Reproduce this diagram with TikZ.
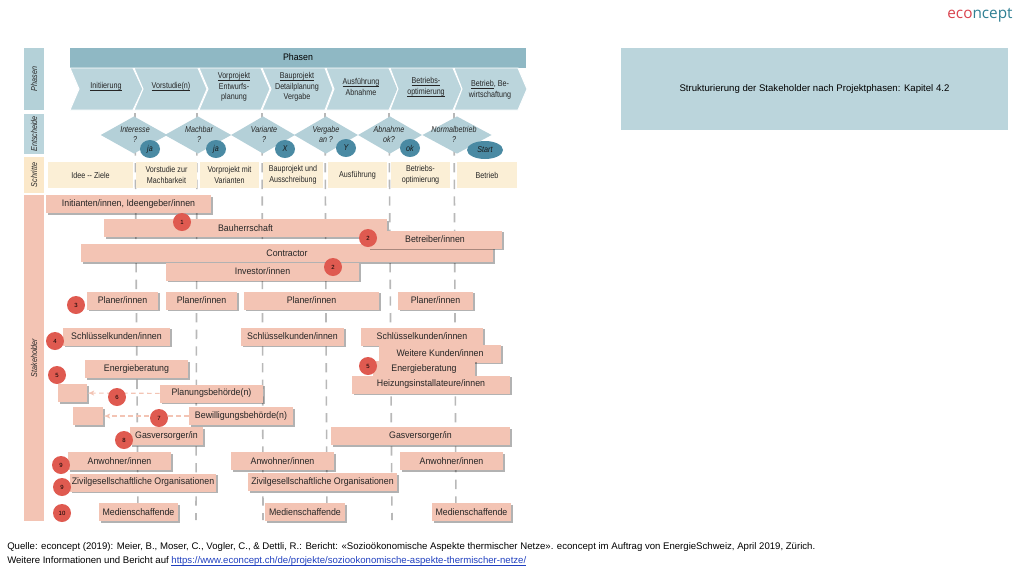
\documentclass[tikz,border=0pt]{standalone}
\usepackage{fontspec}
\setmainfont{Liberation Sans}
\newfontfamily\logofont{Open Sans}
\newfontfamily\narrowfont[FakeStretch=0.84]{Liberation Sans}
\newfontfamily\stakefont[FakeStretch=0.93]{Liberation Sans}
\usepackage{tikz}
\usetikzlibrary{arrows}
\usetikzlibrary{shadows}
\usetikzlibrary{shapes.geometric}
\definecolor{phasehead}{HTML}{8FB8C4}
\definecolor{phaselight}{HTML}{BBD5DC}
\definecolor{gatelight}{HTML}{B4D0D8}
\definecolor{gatedark}{HTML}{4A8AA3}
\definecolor{stepfill}{HTML}{FBEFD6}
\definecolor{stepside}{HTML}{FBE8C9}
\definecolor{stakefill}{HTML}{F3C4B4}
\definecolor{markred}{HTML}{DF5A50}
\definecolor{linkblue}{HTML}{1F3FBF}
\definecolor{logored}{HTML}{D9434E}
\definecolor{logoteal}{HTML}{2F7F93}
\newcommand{\txt}{\stakefont\fontsize{7.1}{8.2}\selectfont}
\newcommand{\txs}{\narrowfont\fontsize{6.4}{8.1}\selectfont}
\newcommand{\txw}{\fontsize{7.2}{8.6}\selectfont}
\newcommand{\ul}[1]{\underline{\smash{#1}}}

\begin{document}
\begin{tikzpicture}[x=0.75pt, y=-0.75pt,
    pw/.style={minimum width=#1*0.75pt},
    sidebox/.style={inner sep=0, minimum width=15pt, font=\txs\itshape, text=black!85},
    phaselabel/.style={font=\txs, align=center, text=black!85},
    gatebox/.style={diamond, aspect=1.8, fill=gatelight, inner sep=0, minimum height=28pt},
    gatelabel/.style={font=\txs\itshape, align=center, text=black!85},
    answer/.style={ellipse, fill=gatedark, inner sep=0, minimum width=15pt, minimum height=13.5pt, font=\txs\itshape, text=black!90},
    stepbox/.style={fill=stepfill, font=\txs, align=center, text=black!85, inner sep=0, minimum height=19.5pt},
    stake/.style={fill=stakefill, font=\txt, text=black!85, inner sep=0, minimum height=13.5pt,
      drop shadow={shadow xshift=1.2pt, shadow yshift=-1.2pt, fill=black, opacity=0.3}},
    redmark/.style={circle, fill=markred, inner sep=0, minimum size=13.5pt, font=\fontsize{4.5}{5}\selectfont},
    gateline/.style={black!28, line width=1.2pt, dash pattern=on 7pt off 5.5pt},
    blankarrow/.style={stakefill, line width=0.8pt, dash pattern=on 3.5pt off 2.5pt, -latex'}]
    \useasboundingbox (0, 0) rectangle (1024, 576);

    \node [font=\fontsize{11.5}{13}\selectfont\logofont] (logo) at (980, 15) {\textcolor{logored}{eco}\textcolor{logoteal}{ncept}};

    % left column
    \node [sidebox, fill=phaselight!85!phasehead, minimum height=46.5pt] (sidephase) at (34, 79) {\rotatebox{90}{Phasen}};
    \node [sidebox, fill=phaselight, minimum height=30pt] (sidegate) at (34, 134) {\rotatebox{90}{Entscheide}};
    \node [sidebox, fill=stepside, minimum height=27pt] (sidestep) at (34, 175) {\rotatebox{90}{Schritte}};
    \node [sidebox, fill=stakefill, minimum height=244.5pt] (sidestake) at (34, 358) {\rotatebox{90}{Stakeholder}};

    % phase lines
    \foreach \i/\xa/\xb in {1/135/138, 2/197/196, 3/262/263, 4/325/327, 5/389/392, 6/454/456} {
      \coordinate (linetop\i) at (\xa, 113);
      \coordinate (linebot\i) at (\xb, 520);
      \draw [gateline] (linetop\i) -- (linebot\i);
    }

    % phases
    \node [fill=phasehead, font=\txt, inner sep=0, minimum height=15pt, pw=456] (phasehead) at (298, 57.5) {Phasen};
    \foreach \xa/\xb/\xc/\xd in {70/79/133/143, 134/143/198/207, 199/208/261/270, 262/271/325/333, 326/334/389/398, 390/398/453/462, 454/462/518/527} {
      \path [fill=phaselight, draw=white, line width=0.7pt] (\xa, 68) -- (\xc, 68) -- (\xd, 89) -- (\xc, 110) -- (\xa, 110) -- (\xb, 89) -- cycle;
    }
    \node [phaselabel] (ph1) at (106, 90) {\ul{Initiierung}};
    \node [phaselabel] (ph2) at (171, 90) {\ul{Vorstudie(n)}};
    \node [phaselabel] (ph3) at (234, 90) {\ul{Vorprojekt}\\Entwurfs-\\planung};
    \node [phaselabel] (ph4) at (297, 90) {\ul{Bauprojekt}\\Detailplanung\\Vergabe};
    \node [phaselabel] (ph5) at (361, 90) {\ul{Ausführung}\\Abnahme};
    \node [phaselabel] (ph6) at (426, 90) {\ul{Betriebs-}\\\ul{optimierung}};
    \node [phaselabel] (ph7) at (490, 90) {\ul{Betrieb}, Be-\\wirtschaftung};

    % decisions
    \node [gatebox, minimum width=50pt] (gate1) at (134, 135) {};
    \node [gatebox, minimum width=50pt] (gate2) at (198, 135) {};
    \node [gatebox, minimum width=48pt] (gate3) at (263, 135) {};
    \node [gatebox, minimum width=48pt] (gate4) at (326, 135) {};
    \node [gatebox, minimum width=48pt] (gate5) at (390, 135) {};
    \node [gatebox, minimum width=52pt] (gate6) at (457, 135) {};
    \node [gatelabel] (gatetxt1) at (135, 134.5) {Interesse\\?};
    \node [gatelabel] (gatetxt2) at (199, 134.5) {Machbar\\?};
    \node [gatelabel] (gatetxt3) at (264, 134.5) {Variante\\?};
    \node [gatelabel] (gatetxt4) at (326, 134.5) {Vergabe\\an ?};
    \node [gatelabel] (gatetxt5) at (389, 134.5) {Abnahme\\ok?};
    \node [gatelabel] (gatetxt6) at (454, 134.5) {Normalbetrieb\\?};
    \node [answer] (ans1) at (150, 149) {ja};
    \node [answer] (ans2) at (216, 149) {ja};
    \node [answer] (ans3) at (285, 149) {X};
    \node [answer] (ans4) at (346, 148) {Y};
    \node [answer] (ans5) at (410, 148) {ok};
    \node [answer, minimum width=27pt] (ans6) at (485, 150) {Start};

    % steps
    \node [stepbox, pw=85] (step1) at (90.5, 175) {Idee -- Ziele};
    \node [stepbox, pw=61] (step2) at (166.5, 175) {Vorstudie zur\\Machbarkeit};
    \node [stepbox, pw=59] (step3) at (229.5, 175) {Vorprojekt mit\\Varianten};
    \node [stepbox, pw=60] (step4) at (293, 175) {Bauprojekt und\\Ausschreibung};
    \node [stepbox, pw=59] (step5) at (357.5, 175) {Ausführung};
    \node [stepbox, pw=59] (step6) at (420.5, 175) {Betriebs-\\optimierung};
    \node [stepbox, pw=60] (step7) at (487, 175) {Betrieb};

    % stakeholders
    \node [stake, pw=165] (init) at (128.5, 204) {Initianten/innen, Ideengeber/innen};
    \node [stake, pw=283] (bauherr) at (245.5, 228) {Bauherrschaft};
    \node [stake, pw=412] (contr) at (287, 253) {Contractor};
    \node [stake, pw=134] (betr) at (435, 239.5) {Betreiber/innen};
    \node [stake, pw=193] (invest) at (262.5, 271.5) {Investor/innen};
    \node [stake, pw=71] (plan1) at (122.5, 300.5) {Planer/innen};
    \node [stake, pw=71] (plan2) at (201.5, 300.5) {Planer/innen};
    \node [stake, pw=135] (plan3) at (311.5, 300.5) {Planer/innen};
    \node [stake, pw=75] (plan4) at (435.5, 300.5) {Planer/innen};
    \node [stake, pw=107] (key1) at (116.5, 336.5) {Schlüsselkunden/innen};
    \node [stake, pw=103] (key2) at (292.5, 336.5) {Schlüsselkunden/innen};
    \node [stake, pw=122] (key3) at (422, 336.5) {Schlüsselkunden/innen};
    \node [stake, pw=122] (more) at (440, 353.5) {Weitere Kunden/innen};
    \node [stake, pw=103] (ener1) at (136.5, 369) {Energieberatung};
    \node [stake, pw=102] (ener2) at (424, 369.5) {Energieberatung};
    \node [stake, pw=158] (heiz) at (431, 384.5) {Heizungsinstallateure/innen};
    \node [stake, pw=29] (blank1) at (72.5, 393) {};
    \node [stake, pw=103] (plbeh) at (211.5, 393.5) {Planungsbehörde(n)};
    \node [stake, pw=30] (blank2) at (88, 416) {};
    \node [stake, pw=104] (bewbeh) at (241, 416) {Bewilligungsbehörde(n)};
    \node [stake, pw=73] (gas1) at (166.5, 436) {Gasversorger/in};
    \node [stake, pw=179] (gas2) at (420.5, 436) {Gasversorger/in};
    \node [stake, pw=103] (anw1) at (119.5, 461) {Anwohner/innen};
    \node [stake, pw=103] (anw2) at (282.5, 461) {Anwohner/innen};
    \node [stake, pw=103] (anw3) at (451.5, 461) {Anwohner/innen};
    \node [stake, pw=146] (ziv1) at (143, 482.5) {Zivilgesellschaftliche Organisationen};
    \node [stake, pw=149] (ziv2) at (322.5, 482) {Zivilgesellschaftliche Organisationen};
    \node [stake, pw=79] (med1) at (138.5, 512) {Medienschaffende};
    \node [stake, pw=80] (med2) at (305, 512) {Medienschaffende};
    \node [stake, pw=79] (med3) at (471.5, 512) {Medienschaffende};

    \draw [blankarrow] (plbeh) -- (blank1);
    \draw [blankarrow] (bewbeh) -- (blank2);

    % numbers
    \node [redmark] (no1) at (182, 222) {1};
    \node [redmark] (no2a) at (368, 238) {2};
    \node [redmark] (no2b) at (333, 267) {2};
    \node [redmark] (no3) at (76, 305) {3};
    \node [redmark] (no4) at (55, 341) {4};
    \node [redmark] (no5a) at (57, 375) {5};
    \node [redmark] (no5b) at (368, 366) {5};
    \node [redmark] (no6) at (117, 397) {6};
    \node [redmark] (no7) at (159, 418) {7};
    \node [redmark] (no8) at (124, 440) {8};
    \node [redmark] (no9a) at (61, 465) {9};
    \node [redmark] (no9b) at (62, 487) {9};
    \node [redmark] (no10) at (62, 513) {10};

    % chapter note
    \node [fill=phaselight, font=\txw, inner sep=0, pw=387, minimum height=61.5pt] (note) at (814.5, 89) {Strukturierung der Stakeholder nach Projektphasen: Kapitel 4.2};

    % source
    \node [anchor=west, font=\txw, inner sep=0] (source) at (7, 547.5) {Quelle: econcept (2019): Meier, B., Moser, C., Vogler, C., \& Dettli, R.: Bericht: «Sozioökonomische Aspekte thermischer Netze». econcept im Auftrag von EnergieSchweiz, April 2019, Zürich.};
    \node [anchor=west, font=\txw, inner sep=0] (weblink) at (7, 561.5) {Weitere Informationen und Bericht auf \textcolor{linkblue}{\ul{https://www.econcept.ch/de/projekte/soziookonomische-aspekte-thermischer-netze/}}};
  \end{tikzpicture}
\end{document}
